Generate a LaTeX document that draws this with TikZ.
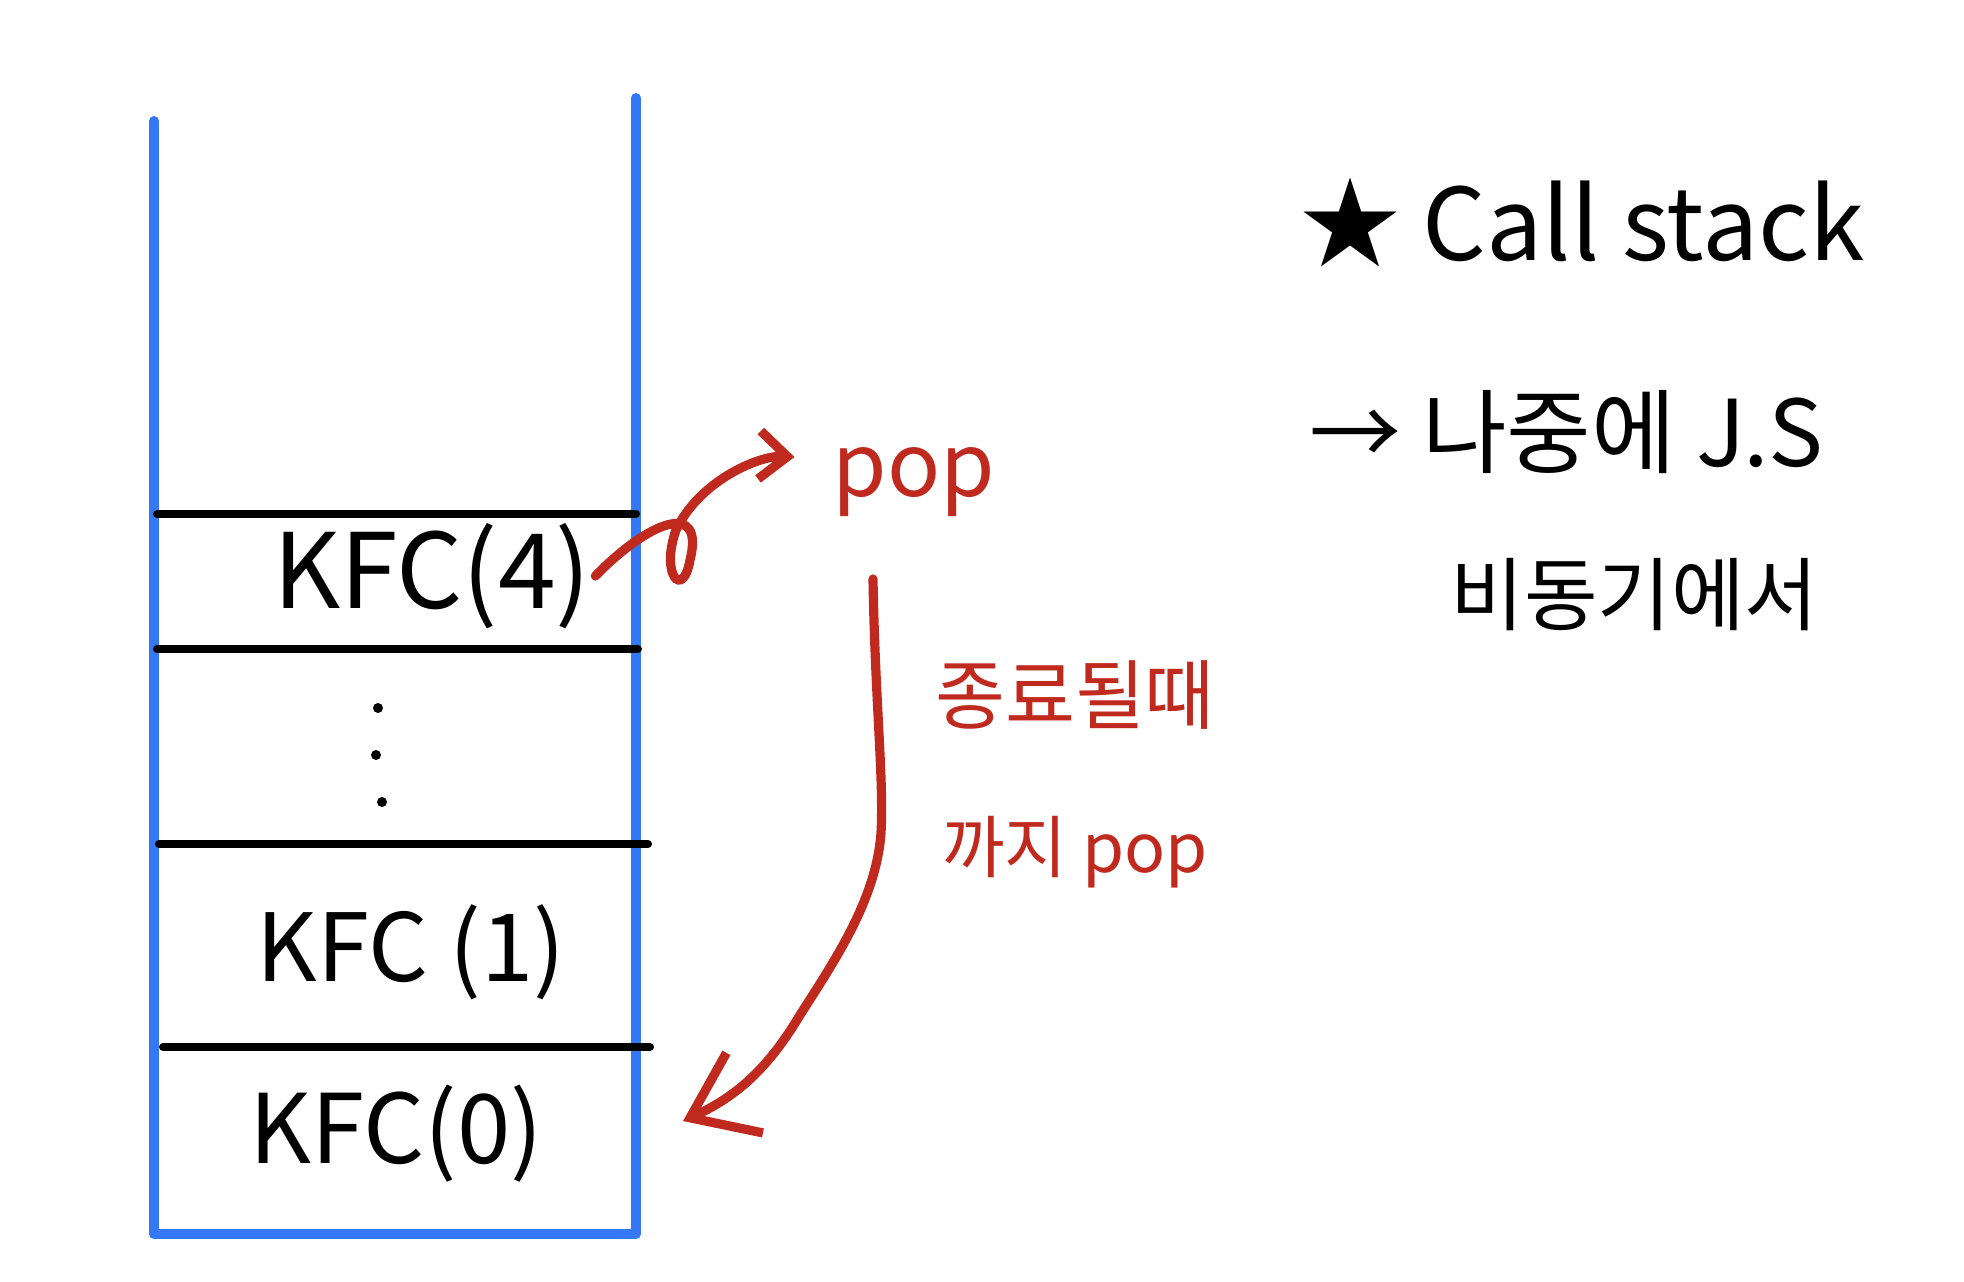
\documentclass[tikz,border=0pt]{standalone}
\usepackage{fontspec}
\setmainfont{Noto Sans CJK KR}
\definecolor{stackBlue}{RGB}{52, 120, 246}
\definecolor{penRed}{RGB}{192, 41, 30}
\usetikzlibrary{arrows.meta, positioning}

\begin{document}
\begin{tikzpicture}[
      x=0.5pt, y=-0.5pt,
      every node/.style={inner sep=2pt},
      frame/.style={stackBlue, line width=5pt, line cap=round, line join=round},
      shelf/.style={black, line width=4pt, line cap=round},
      entry/.style={font=\fontsize{50}{60}\selectfont},
      memo/.style={anchor=west, font=\fontsize{50}{60}\selectfont},
      note/.style={penRed, font=\fontsize{38}{46}\selectfont},
      pen/.style={penRed, line width=4.6pt, line cap=round, -{Straight Barb[length=14pt, width=24pt]}}
    ]
      \useasboundingbox (0,0) rectangle (1964,1281);

      % call stack frame
      \draw[frame] (154,121) -- (154,1234) -- (636,1234) -- (636,98);
      \draw[shelf] (157,514) -- (636,514);
      \draw[shelf] (157,649) -- (638,649);
      \draw[shelf] (159,844) -- (648,844);
      \draw[shelf] (163,1047) -- (650,1047);

      \node[entry, font=\fontsize{52}{60}\selectfont] (k4) at (432,576) {KFC(4)};
      \node[entry, font=\fontsize{47}{56}\selectfont] (k1) at (411,952) {KFC (1)};
      \node[entry, font=\fontsize{48}{56}\selectfont] (k0) at (396,1134) {KFC(0)};
      \foreach \x/\y in {378/708, 376/755, 382/802}
        \fill (\x,\y) circle (5);

      % pop notes
      \node[note, font=\fontsize{44}{52}\selectfont] (pop) at (914,482) {pop};
      \node[note] (endtxt) at (1075,695) {종료될때};
      \node[note, font=\fontsize{34}{42}\selectfont] (untiltxt) at (1075,852) {까지 pop};
      \coordinate (popdrop) at (873,579);
      \coordinate (k0tip) at (683,1121);

      \draw[pen, shorten >=17pt] (k4.east) .. controls (650,520) and (705,500) .. (690,560)
        .. controls (683,600) and (660,575) .. (676,530)
        .. controls (700,480) and (760,455) .. (pop.165);
      \draw[pen, -{Straight Barb[length=30pt, width=44pt]}] (popdrop) .. controls (875,700) and (884,780) .. (881,833)
        .. controls (876,900) and (835,960) .. (800,1015)
        .. controls (770,1065) and (740,1095) .. (k0tip);

      % side memo
      \node[memo] (title) at (1296,223) {★ Call stack};
      \node[memo, font=\fontsize{46}{54}\selectfont] (later) at (1305,432) {→ 나중에 J.S};
      \node[memo, font=\fontsize{40}{48}\selectfont] (async) at (1446,595) {비동기에서};
    \end{tikzpicture}
\end{document}
